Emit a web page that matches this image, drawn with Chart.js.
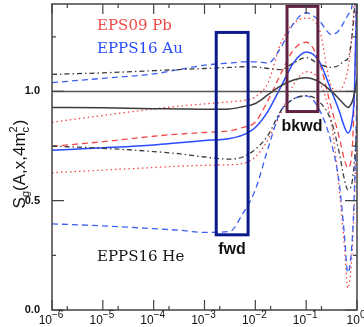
<!DOCTYPE html>
<html>
<head>
<meta charset="utf-8">
<script src="https://cdn.jsdelivr.net/npm/chart.js@4.4.0/dist/chart.umd.min.js"></script>
<style>
  body { margin: 0; background: #fff; }
  #wrap { width: 364px; height: 327px; }
</style>
</head>
<body>
<div id="wrap"><canvas id="chart" width="364" height="327"></canvas></div>
<script>
// x grid shared by every curve (log x)
const xVals = [1e-6, 1e-5, 1e-4, 3.16e-4, 1e-3, 3.16e-3, 5.62e-3, 1e-2, 1.78e-2, 3.16e-2,
               5.62e-2, 0.1, 0.178, 0.316, 0.447, 0.562, 0.661, 0.794, 0.891, 1];

// EPPS16 He
const heCentral = [0.927, 0.925, 0.921, 0.92, 0.918, 0.92, 0.93, 0.945, 0.985, 1.025,
                   1.052, 1.063, 1.045, 1.0, 0.965, 0.94, 0.927, 0.95, 0.99, 1.06];
const heUpper   = [1.078, 1.085, 1.095, 1.10, 1.105, 1.11, 1.113, 1.112, 1.105, 1.10,
                   1.13, 1.155, 1.125, 1.11, 1.12, 1.14, 1.15, 1.25, 1.38, 1.6];
const heLower   = [0.75, 0.74, 0.725, 0.715, 0.70, 0.69, 0.70, 0.735, 0.80, 0.91,
                   0.965, 0.98, 0.955, 0.86, 0.72, 0.6, 0.55, 0.58, 0.68, 0.85];

// EPPS16 Au
const auCentral = [0.731, 0.742, 0.755, 0.765, 0.775, 0.785, 0.80, 0.835, 0.91, 1.02,
                   1.13, 1.18, 1.14, 1.0, 0.91, 0.84, 0.81, 0.86, 1.0, 1.5];
const auUpper   = [1.04, 1.06, 1.08, 1.10, 1.12, 1.13, 1.135, 1.135, 1.13, 1.20,
                   1.31, 1.36, 1.325, 1.26, 1.28, 1.32, 1.35, 1.39, 1.5, 1.7];
const auLower   = [0.394, 0.385, 0.372, 0.365, 0.355, 0.36, 0.44, 0.55, 0.74, 0.91,
                   0.965, 0.98, 0.92, 0.76, 0.58, 0.35, 0.17, 0.3, 0.55, 1.0];

// EPS09 Pb
const pbCentral = [0.749, 0.77, 0.795, 0.805, 0.812, 0.82, 0.835, 0.86, 0.96, 1.08,
                   1.19, 1.225, 1.14, 0.92, 0.79, 0.69, 0.65, 0.72, 1.0, 1.6];
const pbUpper   = [0.859, 0.89, 0.92, 0.933, 0.943, 0.953, 0.958, 0.975, 1.04, 1.22,
                   1.31, 1.335, 1.29, 1.02, 1.0, 1.04, 1.1, 1.25, 1.45, 1.8];
const pbLower   = [0.628, 0.64, 0.652, 0.658, 0.662, 0.665, 0.67, 0.70, 0.78, 0.90,
                   1.03, 1.09, 1.05, 0.85, 0.55, 0.3, 0.1, 0.25, 0.5, 0.9];

// reference line at S = 1
const unityX = [1e-6, 1];
const unityY = [1, 1];

// axes
const xTickVals = [1e-6, 1e-5, 1e-4, 1e-3, 1e-2, 1e-1, 1];
const xTickExp = ['\u22126', '\u22125', '\u22124', '\u22123', '\u22122', '\u22121', '0'];
const xMinorTicks = [2e-6, 2e-5, 2e-4, 2e-3, 2e-2, 2e-1];
const yTickVals = [0, 0.5, 1.0];
const yTickLabels = ['0.0', '0.5', '1.0'];
const yMinorTicks = [0.25, 0.75, 1.25];

// rapidity windows
const boxNames = ['fwd', 'bkwd'];
const boxXMin = [1.7e-3, 0.042];
const boxXMax = [7.2e-3, 0.17];
const boxYMin = [0.344, 0.908];
const boxYMax = [1.27, 1.389];

const setNames = ['EPS09 Pb', 'EPPS16 Au', 'EPPS16 He'];

// ---- styling ----
const RED = 'rgb(242,72,72)';
const BLUE = 'rgb(40,75,255)';
const BLUE_D = 'rgb(60,95,245)';
const GREY = 'rgb(60,60,60)';
const boxColors = ['rgb(10,25,140)', 'rgb(95,35,65)'];
// where the text labels sit (data coords, left/centre x and baseline y)
const setLabelPos = [[7.7e-6, 1.282], [7.7e-6, 1.178], [7.7e-6, 0.225]];
const setLabelColor = [RED, BLUE, 'rgb(20,20,20)'];
const boxLabelPos = [[3.48e-3, 0.255], [0.0828, 0.82]];

function pts(ys) {
  return ys.map((v, i) => ({ x: xVals[i], y: v }));
}
function line(ys, color, dash, width) {
  return {
    data: pts(ys), borderColor: color, borderDash: dash, borderWidth: width || 1.3,
    pointRadius: 0, fill: false, cubicInterpolationMode: 'monotone'
  };
}

const datasets = [
  { data: unityX.map((v, i) => ({ x: v, y: unityY[i] })), borderColor: 'rgb(85,85,85)',
    borderWidth: 1.5, pointRadius: 0, fill: false },
  line(heCentral, GREY, [], 1.5),
  line(heUpper, GREY, [5, 3, 1.5, 3]),
  line(heLower, GREY, [5, 3, 1.5, 3]),
  line(auCentral, BLUE, [], 1.5),
  line(auUpper, BLUE_D, [6, 4]),
  line(auLower, BLUE_D, [6, 4]),
  line(pbCentral, RED, [6, 4]),
  line(pbUpper, RED, [1.5, 3]),
  line(pbLower, RED, [1.5, 3])
];

const decorations = {
  id: 'decorations',
  afterDatasetsDraw(chart) {
    const { ctx, chartArea: a, scales: { x, y } } = chart;
    ctx.save();

    // boxes
    ctx.lineWidth = 3;
    boxNames.forEach((name, i) => {
      const x0 = x.getPixelForValue(boxXMin[i]), x1 = x.getPixelForValue(boxXMax[i]);
      const y0 = y.getPixelForValue(boxYMax[i]), y1 = y.getPixelForValue(boxYMin[i]);
      ctx.strokeStyle = boxColors[i];
      ctx.strokeRect(x0, y0, x1 - x0, y1 - y0);
      ctx.fillStyle = '#111';
      ctx.font = 'bold 16px "Liberation Sans", Arial, sans-serif';
      ctx.textAlign = 'center';
      ctx.textBaseline = 'alphabetic';
      ctx.fillText(name, x.getPixelForValue(boxLabelPos[i][0]), y.getPixelForValue(boxLabelPos[i][1]));
    });

    // set names
    ctx.font = '15px "DejaVu Serif", serif';
    ctx.textAlign = 'left';
    setNames.forEach((t, i) => {
      ctx.fillStyle = setLabelColor[i];
      ctx.fillText(t, x.getPixelForValue(setLabelPos[i][0]), y.getPixelForValue(setLabelPos[i][1]));
    });

    // frame
    ctx.strokeStyle = '#444';
    ctx.lineWidth = 1.5;
    ctx.strokeRect(a.left, a.top, a.right - a.left, a.bottom - a.top);

    // inward ticks on all four sides
    ctx.lineWidth = 1.2;
    ctx.beginPath();
    const xt = (v, len) => {
      const p = x.getPixelForValue(v);
      ctx.moveTo(p, a.bottom); ctx.lineTo(p, a.bottom - len);
      ctx.moveTo(p, a.top); ctx.lineTo(p, a.top + len);
    };
    const yt = (v, len) => {
      const p = y.getPixelForValue(v);
      ctx.moveTo(a.left, p); ctx.lineTo(a.left + len, p);
      ctx.moveTo(a.right, p); ctx.lineTo(a.right - len, p);
    };
    xTickVals.forEach(v => xt(v, 10));
    xMinorTicks.forEach(v => xt(v, 4));
    yTickVals.forEach(v => yt(v, 12));
    yMinorTicks.forEach(v => yt(v, 4));
    ctx.stroke();

    // x tick labels 10^n
    ctx.fillStyle = '#111';
    const baseFont = '12px "Liberation Sans", Arial, sans-serif';
    const expFont = '10px "Liberation Sans", Arial, sans-serif';
    xTickVals.forEach((v, i) => {
      ctx.font = baseFont;
      const wb = ctx.measureText('10').width;
      ctx.font = expFont;
      const we = ctx.measureText(xTickExp[i]).width;
      const left = x.getPixelForValue(v) - (wb + we) / 2 - 1;
      ctx.textAlign = 'left';
      ctx.font = baseFont;
      ctx.fillText('10', left, a.bottom + 14);
      ctx.font = expFont;
      ctx.fillText(xTickExp[i], left + wb, a.bottom + 8);
    });

    // y title S_g(A,x,4m_c^2), rotated
    ctx.translate(25, 164);
    ctx.rotate(-Math.PI / 2);
    const big = '17px "Liberation Sans", Arial, sans-serif';
    const small = '11px "Liberation Sans", Arial, sans-serif';
    ctx.font = big;
    const wS = ctx.measureText('S').width, wMid = ctx.measureText('(A,x,4m').width, wEnd = ctx.measureText(')').width;
    ctx.font = small;
    const wg = ctx.measureText('g').width, wc = ctx.measureText('c').width, w2 = ctx.measureText('2').width;
    const total = wS + wg + wMid + Math.max(wc, w2) + 1 + wEnd;
    let cx = -total / 2;
    ctx.textAlign = 'left';
    ctx.font = big; ctx.fillText('S', cx, 0); cx += wS;
    ctx.font = small; ctx.fillText('g', cx, 4); cx += wg;
    ctx.font = big; ctx.fillText('(A,x,4m', cx, 0); cx += wMid;
    ctx.font = small; ctx.fillText('c', cx, 4); ctx.fillText('2', cx, -8); cx += Math.max(wc, w2) + 1;
    ctx.font = big; ctx.fillText(')', cx, 0);

    ctx.restore();
  }
};

new Chart(document.getElementById('chart').getContext('2d'), {
  type: 'line',
  data: { datasets: datasets },
  options: {
    responsive: false,
    animation: false,
    devicePixelRatio: 1,
    layout: { padding: { top: 4, right: 7, left: 0, bottom: 0 } },
    plugins: { legend: { display: false }, tooltip: { enabled: false } },
    scales: {
      x: {
        type: 'logarithmic',
        min: 1e-6, max: 1,
        grid: { display: false }, border: { display: false },
        afterBuildTicks: s => { s.ticks = xTickVals.map(v => ({ value: v })); },
        afterFit: s => { s.height = 17; s.paddingLeft = 0; s.paddingRight = 0; },
        ticks: { display: false }
      },
      y: {
        type: 'linear',
        min: 0, max: 1.4,
        grid: { display: false }, border: { display: false },
        afterBuildTicks: s => { s.ticks = yTickVals.map(v => ({ value: v })); },
        afterFit: s => { s.width = 52; s.paddingTop = 0; s.paddingBottom = 0; },
        ticks: {
          padding: 4, color: '#111',
          font: { family: '"Liberation Sans", Arial, sans-serif', size: 11, weight: 'bold' },
          callback: (v, i) => yTickLabels[i]
        }
      }
    }
  },
  plugins: [decorations]
});
</script>
</body>
</html>
